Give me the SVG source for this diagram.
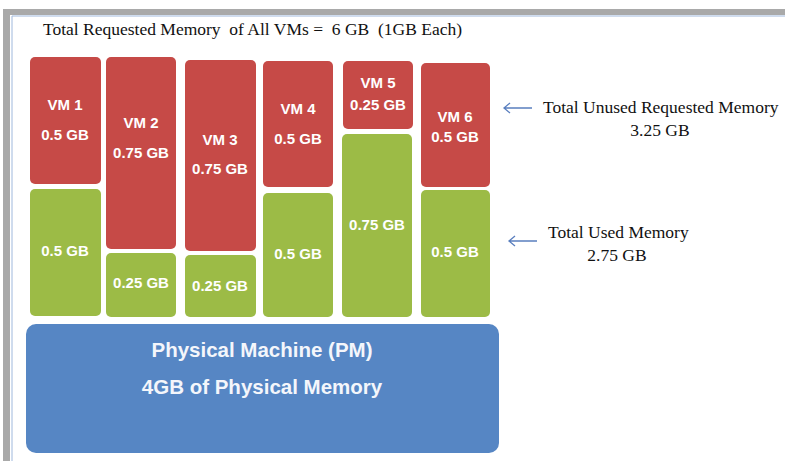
<svg xmlns="http://www.w3.org/2000/svg" width="785" height="461" viewBox="0 0 785 461">
<style>
.red{fill:#c64a47}
.green{fill:#9cbb46}
.vt{font-family:"Liberation Sans",Arial,sans-serif;font-weight:bold;font-size:15px;fill:#ffffff;text-anchor:middle}
.pt{font-family:"Liberation Sans",Arial,sans-serif;font-weight:bold;font-size:20.5px;fill:#f4f6fb;text-anchor:middle}
.st{font-family:"Liberation Serif","Times New Roman",serif;font-size:17.5px;fill:#111111;white-space:pre}
.arr{stroke:#5a7fbf;stroke-width:1.3;fill:none}
</style>
<rect x="0" y="0" width="785" height="461" fill="#ffffff"/>
<g id="frame">
<rect x="3" y="9" width="782" height="6" fill="#a9a9a9"/>
<rect x="3" y="9" width="7" height="452" fill="#a9a9a9"/>
<line x1="12" y1="16" x2="12" y2="461" stroke="#9fb8dc" stroke-width="1"/>
<line x1="12" y1="16" x2="785" y2="16" stroke="#9fb8dc" stroke-width="1"/>
</g>
<g id="title"><text class="st" x="43" y="35" xml:space="preserve">Total Requested Memory  of All VMs =  6 GB  (1GB Each)</text></g>
<g id="vm1">
<rect class="red" x="30" y="57" width="71" height="127" rx="5"/>
<rect class="green" x="30" y="189" width="71" height="127" rx="5"/>
<text class="vt" x="65" y="110">VM 1</text>
<text class="vt" x="65" y="140">0.5 GB</text>
<text class="vt" x="65" y="256">0.5 GB</text>
</g>
<g id="vm2">
<rect class="red" x="106" y="57" width="70" height="192" rx="5"/>
<rect class="green" x="106" y="253" width="70" height="64" rx="5"/>
<text class="vt" x="141" y="128">VM 2</text>
<text class="vt" x="141" y="158">0.75 GB</text>
<text class="vt" x="141" y="288">0.25 GB</text>
</g>
<g id="vm3">
<rect class="red" x="185" y="60" width="71" height="191" rx="5"/>
<rect class="green" x="185" y="255" width="71" height="62" rx="5"/>
<text class="vt" x="220" y="145">VM 3</text>
<text class="vt" x="220" y="174">0.75 GB</text>
<text class="vt" x="220" y="291">0.25 GB</text>
</g>
<g id="vm4">
<rect class="red" x="263" y="61" width="70" height="126" rx="5"/>
<rect class="green" x="263" y="193" width="70" height="124" rx="5"/>
<text class="vt" x="298" y="114">VM 4</text>
<text class="vt" x="298" y="144">0.5 GB</text>
<text class="vt" x="298" y="259">0.5 GB</text>
</g>
<g id="vm5">
<rect class="red" x="343" y="61" width="70" height="68" rx="5"/>
<rect class="green" x="342" y="134" width="70" height="183" rx="5"/>
<text class="vt" x="378" y="88">VM 5</text>
<text class="vt" x="378" y="110">0.25 GB</text>
<text class="vt" x="377" y="230">0.75 GB</text>
</g>
<g id="vm6">
<rect class="red" x="421" y="63" width="69" height="124" rx="5"/>
<rect class="green" x="421" y="190" width="69" height="127" rx="5"/>
<text class="vt" x="455" y="122">VM 6</text>
<text class="vt" x="455" y="142">0.5 GB</text>
<text class="vt" x="455" y="257">0.5 GB</text>
</g>
<g id="pm">
<rect x="26" y="324" width="473" height="129" rx="10" fill="#5686c4"/>
<text class="pt" x="262" y="357">Physical Machine (PM)</text>
<text class="pt" x="262" y="394">4GB of Physical Memory</text>
</g>
<g id="label-unused">
<text class="st" x="543" y="113">Total Unused Requested Memory</text>
<text class="st" x="660" y="136" text-anchor="middle">3.25 GB</text>
</g>
<g id="label-used">
<text class="st" x="548" y="238">Total Used Memory</text>
<text class="st" x="617" y="261" text-anchor="middle">2.75 GB</text>
</g>
<g id="connectors">
<path class="arr" d="M532 108 H504 M510 103 L504 108 L510 113"/>
<path class="arr" d="M537 241 H509 M515 236 L509 241 L515 246"/>
</g>
</svg>
